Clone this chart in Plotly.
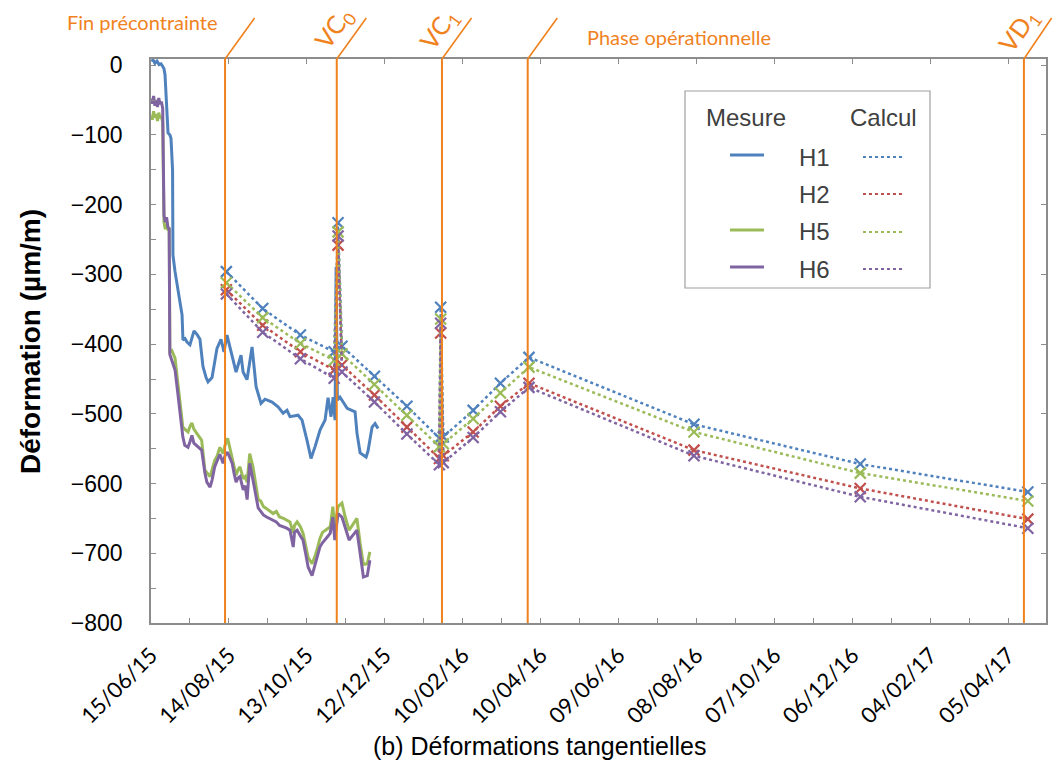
import pandas as pd
import plotly.graph_objects as go

START = pd.Timestamp("2015-06-15")
END = pd.Timestamp("2017-05-04")
DAY_MS = 86400000

# ---- Mesures (jours écoulés depuis le 15/06/15, déformation en µm/m) ----
h1_days = [0.8, 1.5, 3, 4.6, 6.2, 7.7, 8.5, 10, 10.8, 12.3, 13.1, 14.6, 15.4, 16.6, 16.9,
           18.5, 20.8, 23.9, 24.6, 26.2, 27.7, 30, 33.1, 35.4, 37.7, 40, 42.4, 43.9, 47,
           50.8, 53.9, 56.2, 58.5, 62.4, 65.5, 69.3, 70.9, 73.9, 77.8, 80.9, 84.7, 87.8,
           93.2, 97.8, 101.7, 104.7, 107, 113.2, 116.3, 120.1, 123.2, 126.3, 130.2, 134,
           136.3, 138.6, 140.2, 141.7, 142.5, 143.5, 145.5, 147.9, 151, 157.1, 158.6, 161,
           165.6, 167.1, 170.2, 172.5, 174.8]
h1_vals = [5, 8, 3, 6, 1, 2, 0, -5, -14, -60, -97, -100, -105, -150, -272,
           -296, -320, -358, -394, -392, -397, -401, -381, -386, -393, -432, -448, -454, -448,
           -406, -393, -411, -387, -418, -440, -416, -440, -451, -404, -461, -485, -479,
           -483, -490, -499, -495, -504, -502, -509, -538, -564, -547, -523, -509,
           -477, -504, -476, -509, -289, -480, -476, -483, -492, -497, -528, -556,
           -562, -553, -519, -514, -521]

h56_days = [0, 1, 2, 3, 4, 5, 6, 7, 8, 9, 10, 11, 12, 13, 14, 14.5, 16, 18.5, 20, 22,
            24.5, 26, 28.5, 30, 31.5, 33, 35, 37, 39, 41.5, 43, 45.5, 47, 49, 51, 53,
            55.5, 57, 59, 60.5, 62.5, 64, 65.5, 67, 68.5, 71, 72.5, 74, 75, 76, 78.5,
            80.5, 82.5, 84.5, 86.5, 89, 91.5, 94, 96.5, 99, 102, 104.5, 107, 109.5,
            110.5, 112.5, 115, 117, 119, 121, 124, 126.5, 128.5, 130, 132, 134, 136,
            138, 140, 141.5, 143, 144, 147, 149.5, 152.5, 155.5, 158.5, 161, 163.5,
            166.5, 168.5]
h5_vals = [-72, -78, -66, -75, -70, -80, -68, -76, -73, -82, -225, -235, -228, -237, -232,
           -410, -409, -420, -445, -476, -519, -522, -526, -518, -513, -522, -528, -533,
           -538, -581, -585, -590, -580, -567, -560, -548, -557, -545, -535, -548, -562,
           -575, -588, -580, -576, -593, -590, -598, -575, -557, -576, -600, -623, -625,
           -633, -636, -640, -643, -640, -648, -650, -652, -655, -671, -660, -655, -662,
           -671, -690, -706, -715, -703, -690, -679, -670, -667, -664, -662, -633, -663,
           -645, -633, -628, -648, -667, -659, -650, -686, -716, -715, -698]
h6_vals = [-48, -55, -44, -58, -50, -60, -47, -56, -52, -62, -215, -225, -218, -232, -235,
           -415, -423, -437, -460, -490, -533, -545, -548, -540, -531, -542, -545, -548,
           -552, -585, -598, -605, -595, -576, -568, -558, -571, -560, -555, -562, -571,
           -586, -598, -592, -590, -609, -603, -623, -590, -571, -595, -615, -635, -640,
           -645, -648, -650, -653, -655, -660, -662, -664, -667, -691, -670, -667, -675,
           -681, -700, -720, -732, -715, -703, -691, -685, -681, -676, -671, -648, -681,
           -660, -643, -648, -662, -681, -674, -667, -700, -734, -732, -710]

# ---- Calcul ----
calc_dates = ["2015-08-12", "2015-09-09", "2015-10-08", "2015-11-03", "2015-11-06",
              "2015-11-09", "2015-12-04", "2015-12-29", "2016-01-23", "2016-01-24",
              "2016-01-26", "2016-02-18", "2016-03-10", "2016-04-01", "2016-08-06",
              "2016-12-12", "2017-04-20"]
calc_h1 = [-296, -349, -387, -411, -226, -403, -446, -489, -535, -347, -533, -495, -456,
           -419, -515, -572, -612]
calc_h2 = [-322, -373, -411, -437, -258, -430, -473, -519, -564, -384, -560, -526, -489,
           -456, -552, -607, -651]
calc_h5 = [-312, -362, -399, -423, -239, -414, -458, -502, -547, -364, -543, -507, -470,
           -433, -526, -585, -625]
calc_h6 = [-328, -383, -421, -449, -245, -440, -483, -529, -573, -370, -570, -534, -497,
           -462, -560, -619, -664]

# ---- Phases ----
event_dates = ["2015-08-11", "2015-11-05", "2016-01-25", "2016-03-31", "2017-04-17"]

x_tick_start = "2015-06-15"

C_H1, C_H2, C_H5, C_H6 = "#4F81BD", "#C0504D", "#9BBB59", "#8064A2"
ORANGE = "#F0821E"
AXIS_GREY = "#8C8C8C"

# plot-area pixel frame, used to place the decorations around it
PL, PR, PT, PB = 151, 1046, 59, 623


def fx(px):
    return (px - PL) / (PR - PL)


def fy(py):
    return (PB - py) / (PB - PT)


def to_dates(days):
    return START + pd.to_timedelta(days, unit="D")


def note(xp, yp, text, font, **kw):
    return dict(x=fx(xp), y=fy(yp), xref="paper", yref="paper", text=text,
                showarrow=False, xanchor="center", yanchor="middle", font=font, **kw)


fig = go.Figure()

for days, vals, col in [(h1_days, h1_vals, C_H1), (h56_days, h5_vals, C_H5),
                        (h56_days, h6_vals, C_H6)]:
    fig.add_trace(go.Scatter(x=to_dates(days), y=vals, mode="lines",
                             line=dict(color=col, width=3), showlegend=False))

for vals, col in [(calc_h1, C_H1), (calc_h2, C_H2), (calc_h5, C_H5), (calc_h6, C_H6)]:
    fig.add_trace(go.Scatter(
        x=pd.to_datetime(calc_dates), y=vals, mode="lines+markers",
        line=dict(color=col, width=2.5, dash="dot"),
        marker=dict(symbol="x-thin", size=11, line=dict(color=col, width=2.2)),
        showlegend=False))

# invisible trace that carries the top and right frame axes
fig.add_trace(go.Scatter(x=[START], y=[0], xaxis="x2", yaxis="y2", mode="markers",
                         marker=dict(opacity=0), showlegend=False, hoverinfo="skip"))

shapes = []
annotations = []

for d in event_dates:
    shapes.append(dict(type="line", xref="x", yref="paper", x0=d, x1=d, y0=0, y1=1,
                       line=dict(color=ORANGE, width=2), layer="above"))
    annotations.append(dict(x=d, y=1, xref="x", yref="paper", text=" ",
                            font=dict(size=1), showarrow=True, arrowhead=0,
                            arrowwidth=1.6, arrowcolor=ORANGE, ax=31, ay=-43,
                            standoff=0, startstandoff=0))

top_font = dict(family="Lato, Open Sans, sans-serif", color=ORANGE)
annotations += [
    note(142, 22, "Fin précontrainte", dict(size=20, **top_font)),
    note(679, 37, "Phase opérationnelle", dict(size=20, **top_font)),
    note(334, 29, "VC<sub>0</sub>", dict(size=25, **top_font), textangle=-54),
    note(439, 30, "VC<sub>1</sub>", dict(size=25, **top_font), textangle=-54),
    note(1019, 31, "VD<sub>1</sub>", dict(size=25, **top_font), textangle=-54),
]

# axis titles
arial = "Arial, Liberation Sans, sans-serif"
annotations += [
    note(540, 746, "(b) Déformations tangentielles",
         dict(family=arial, size=25, color="black")),
    note(30, 342, "<b>Déformation (µm/m)</b>",
         dict(family=arial, size=28, color="black"), textangle=-90),
]

# legend block: Mesure / Calcul columns
leg_font = dict(family=arial, size=24, color="#404040")
shapes.append(dict(type="rect", xref="paper", yref="paper", x0=fx(685), x1=fx(930),
                   y0=fy(288), y1=fy(91), line=dict(color="#A0A0A0", width=1.2),
                   fillcolor="white", layer="above"))
annotations += [note(746, 118, "Mesure", leg_font), note(883, 118, "Calcul", leg_font)]
leg_rows = [("H1", C_H1, True, 157), ("H2", C_H2, False, 194),
            ("H5", C_H5, True, 232), ("H6", C_H6, True, 269)]
for name, col, has_measure, ypx in leg_rows:
    annotations.append(note(814, ypx, name, leg_font))
    if has_measure:
        shapes.append(dict(type="line", xref="paper", yref="paper", x0=fx(730),
                           x1=fx(764), y0=fy(ypx - 2), y1=fy(ypx - 2),
                           line=dict(color=col, width=3), layer="above"))
    shapes.append(dict(type="line", xref="paper", yref="paper", x0=fx(863), x1=fx(903),
                       y0=fy(ypx), y1=fy(ypx),
                       line=dict(color=col, width=2, dash="dot"), layer="above"))

axis_common = dict(showgrid=False, zeroline=False, showline=True, linecolor=AXIS_GREY,
                   linewidth=1.5, ticks="inside", ticklen=5, tickcolor=AXIS_GREY,
                   tickwidth=1.3)

fig.update_layout(
    width=1053, height=760,
    margin=dict(l=PL, r=1053 - PR, t=PT, b=760 - PB, autoexpand=False),
    paper_bgcolor="white", plot_bgcolor="white",
    xaxis=dict(type="date", range=[START, END], tick0=x_tick_start, dtick=60 * DAY_MS,
               tickformat="%d/%m/%y", tickangle=-45,
               tickfont=dict(family="Lato, Open Sans, sans-serif", size=22, color="black"),
               minor=dict(tick0=x_tick_start, dtick=30 * DAY_MS, ticks="inside",
                          ticklen=5, tickcolor=AXIS_GREY, tickwidth=1.3),
               ticklabelstandoff=9, **axis_common),
    xaxis2=dict(type="date", range=[START, END], overlaying="x", side="top",
                tick0=x_tick_start, dtick=60 * DAY_MS, showticklabels=False,
                **axis_common),
    yaxis=dict(range=[-800, 9], tick0=0, dtick=100,
               tickfont=dict(family=arial, size=23, color="black"),
               minor=dict(tick0=0, dtick=50, ticks="inside", ticklen=5,
                          tickcolor=AXIS_GREY, tickwidth=1.3),
               ticklabelstandoff=22, **axis_common),
    yaxis2=dict(range=[-800, 9], overlaying="y", side="right", tick0=0, dtick=100,
                showticklabels=False, **axis_common),
    shapes=shapes,
    annotations=annotations,
    showlegend=False,
)

fig.write_html("out.html")
